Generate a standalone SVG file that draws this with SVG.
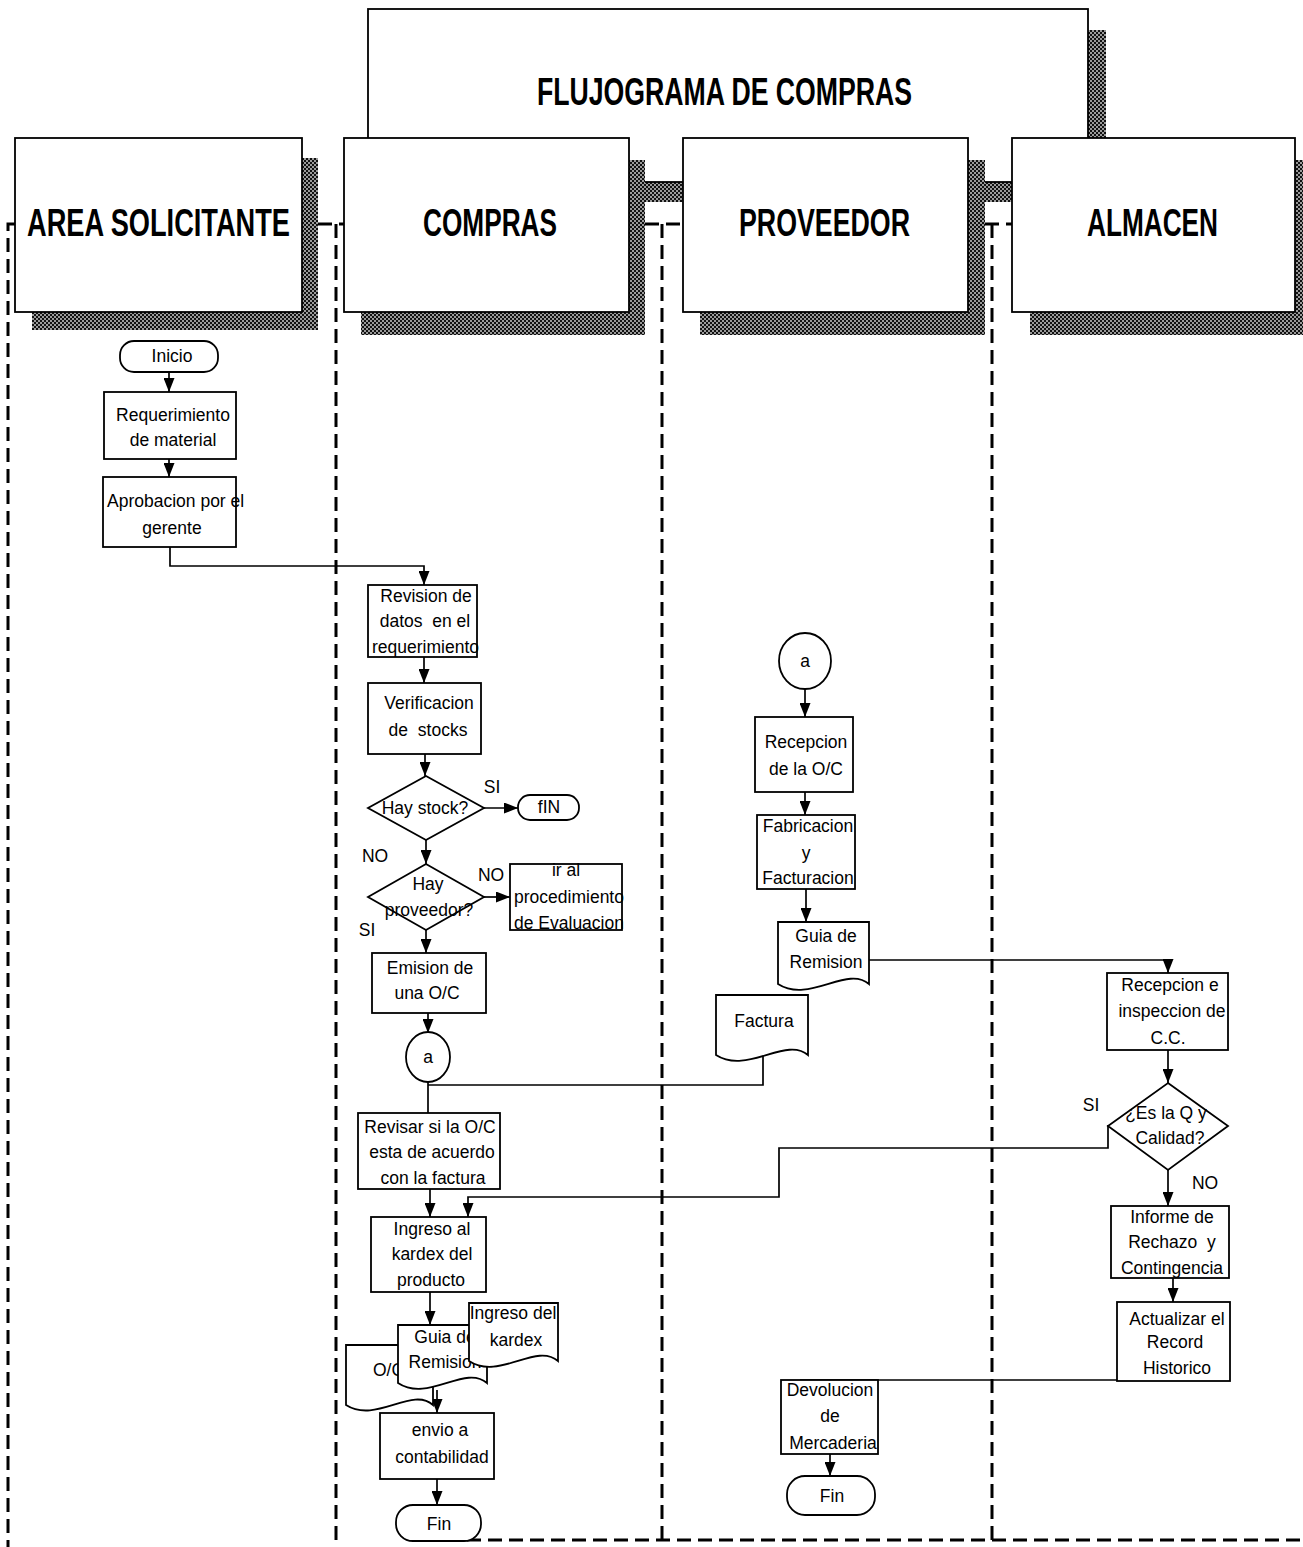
<svg xmlns="http://www.w3.org/2000/svg" width="1303" height="1547" viewBox="0 0 1303 1547">
<defs>
<pattern id="dots" width="4" height="4" patternUnits="userSpaceOnUse">
<rect width="4" height="4" fill="#9a9a9a"/>
<rect width="2" height="2" fill="#111"/>
<rect x="2" y="2" width="2" height="2" fill="#111"/>
</pattern>
<marker id="ah" markerWidth="14" markerHeight="11" refX="14" refY="5.5" orient="auto" markerUnits="userSpaceOnUse">
<path d="M0,0 L14,5.5 L0,11 z" fill="#000"/>
</marker>
</defs>
<style>
.box{fill:#fff;stroke:#000;stroke-width:1.8}
.hbox{fill:#fff;stroke:#000;stroke-width:1.8}
.sh{fill:url(#dots)}
.t{font-family:"Liberation Sans",Arial,sans-serif;font-size:17.5px;fill:#000;text-anchor:middle;white-space:pre}
.ts{font-family:"Liberation Sans",Arial,sans-serif;font-size:17.5px;fill:#000;white-space:pre}
.h{font-family:"Liberation Sans",Arial,sans-serif;font-weight:bold;font-size:39px;fill:#000}
.lane{fill:none;stroke:#000;stroke-width:3;stroke-dasharray:14 7}
.c{fill:none;stroke:#000;stroke-width:1.7}
.a{fill:none;stroke:#000;stroke-width:1.7;marker-end:url(#ah)}
</style>
<rect width="1303" height="1547" fill="#fff"/>

<!-- lanes -->
<g id="lanes">
<path class="lane" d="M15,224 H8 V1547"/>
<path class="lane" d="M318,224 H344 M336,224 V1547"/>
<path class="lane" d="M645,224 H683 M662,224 V1547"/>
<path class="lane" d="M985,224 H1012 M992,224 V1547"/>
<path class="lane" d="M425,1540 H1303"/>
</g>

<!-- title -->
<g id="title">
<rect class="sh" x="1088" y="30" width="18" height="172"/>
<rect class="sh" x="385" y="182" width="721" height="20"/>
<rect class="hbox" x="368" y="9" width="720" height="173"/>
<text class="h" x="537" y="105" textLength="375" lengthAdjust="spacingAndGlyphs">FLUJOGRAMA DE COMPRAS</text>
</g>

<g id="hdr-area">
<rect class="sh" x="302" y="158" width="16" height="172"/>
<rect class="sh" x="32" y="312" width="286" height="18"/>
<rect class="hbox" x="15" y="138" width="287" height="174"/>
<text class="h" x="27" y="236" textLength="263" lengthAdjust="spacingAndGlyphs">AREA SOLICITANTE</text>
</g>
<g id="hdr-compras">
<rect class="sh" x="629" y="160" width="16" height="175"/>
<rect class="sh" x="361" y="312" width="284" height="23"/>
<rect class="hbox" x="344" y="138" width="285" height="174"/>
<text class="h" x="423" y="236" textLength="134" lengthAdjust="spacingAndGlyphs">COMPRAS</text>
</g>
<g id="hdr-proveedor">
<rect class="sh" x="968" y="160" width="17" height="175"/>
<rect class="sh" x="700" y="312" width="285" height="23"/>
<rect class="hbox" x="683" y="138" width="285" height="174"/>
<text class="h" x="739" y="236" textLength="171" lengthAdjust="spacingAndGlyphs">PROVEEDOR</text>
</g>
<g id="hdr-almacen">
<rect class="sh" x="1295" y="160" width="10" height="175"/>
<rect class="sh" x="1030" y="312" width="275" height="23"/>
<rect class="hbox" x="1012" y="138" width="283" height="174"/>
<text class="h" x="1087" y="236" textLength="131" lengthAdjust="spacingAndGlyphs">ALMACEN</text>
</g>

<!-- connectors -->
<g id="connectors">
<path class="a" d="M169,372 V392"/>
<path class="a" d="M169,459 V477"/>
<path class="a" d="M170,547 V566 H424 V585"/>
<path class="a" d="M424,657 V683"/>
<path class="a" d="M425,754 V776"/>
<path class="a" d="M484,808 H518"/>
<path class="a" d="M426,840 V864"/>
<path class="a" d="M484,897 H510"/>
<path class="a" d="M426,930 V953"/>
<path class="a" d="M428,1013 V1033"/>
<path class="c" d="M428,1082 V1113"/>
<path class="c" d="M763,1055 V1085 H428"/>
<path class="a" d="M430,1189 V1217"/>
<path class="a" d="M1108,1125 V1148 H779 V1197 H468 V1217"/>
<path class="a" d="M430,1292 V1325"/>
<path class="a" d="M437,1390 V1413"/>
<path class="a" d="M437,1479 V1505"/>
<path class="a" d="M805,689 V717"/>
<path class="a" d="M805,792 V815"/>
<path class="a" d="M806,889 V922"/>
<path class="a" d="M869,960 H1168 V973"/>
<path class="a" d="M1168,1050 V1083"/>
<path class="a" d="M1168,1170 V1206"/>
<path class="a" d="M1173,1278 V1302"/>
<path class="c" d="M1117,1380 H800"/>
<path class="a" d="M830,1454 V1476"/>
</g>

<!-- AREA SOLICITANTE -->
<g id="inicio">
<rect class="box" x="120" y="341" width="98" height="31" rx="14"/>
<text class="t" x="172" y="362">Inicio</text>
</g>
<g id="requerimiento">
<rect class="box" x="104" y="392" width="132" height="67"/>
<text class="t" x="173" y="421">Requerimiento</text>
<text class="t" x="173" y="446">de material</text>
</g>
<g id="aprobacion">
<rect class="box" x="103" y="477" width="133" height="70"/>
<text class="ts" x="107" y="507">Aprobacion por el</text>
<text class="t" x="172" y="534">gerente</text>
</g>

<!-- COMPRAS -->
<g id="revision">
<rect class="box" x="368" y="585" width="109" height="72"/>
<text class="t" x="426" y="602">Revision de</text>
<text class="t" x="425" y="627">datos  en el</text>
<text class="ts" x="372" y="653">requerimiento</text>
</g>
<g id="verificacion">
<rect class="box" x="368" y="683" width="113" height="71"/>
<text class="t" x="429" y="709">Verificacion</text>
<text class="t" x="428" y="736">de  stocks</text>
</g>
<g id="hay-stock">
<path class="box" d="M426,776 L484,808 L426,840 L368,808 Z"/>
<text class="t" x="425" y="814">Hay stock?</text>
<text class="t" x="492" y="793">SI</text>
</g>
<g id="fin1">
<rect class="box" x="518" y="795" width="61" height="25" rx="12"/>
<text class="t" x="549" y="813">fIN</text>
</g>
<g id="hay-proveedor">
<path class="box" d="M426,864 L484,897 L426,930 L368,897 Z"/>
<text class="t" x="428" y="890">Hay</text>
<text class="t" x="429" y="916">proveedor?</text>
<text class="t" x="375" y="862">NO</text>
<text class="t" x="491" y="881">NO</text>
<text class="t" x="367" y="936">SI</text>
</g>
<g id="evaluacion">
<rect class="box" x="510" y="864" width="112" height="66"/>
<text class="t" x="566" y="876">ir al</text>
<text class="t" x="569" y="903">procedimiento</text>
<text class="t" x="569" y="929">de Evaluacion</text>
</g>
<g id="emision">
<rect class="box" x="372" y="953" width="114" height="60"/>
<text class="t" x="430" y="974">Emision de</text>
<text class="t" x="427" y="999">una O/C</text>
</g>
<g id="conector-a1">
<ellipse class="box" cx="428" cy="1057" rx="22" ry="25"/>
<text class="t" x="428" y="1063">a</text>
</g>
<g id="revisar">
<rect class="box" x="358" y="1113" width="142" height="76"/>
<text class="t" x="430" y="1133">Revisar si la O/C</text>
<text class="t" x="432" y="1158">esta de acuerdo</text>
<text class="t" x="433" y="1184">con la factura</text>
</g>
<g id="ingreso-kardex">
<rect class="box" x="371" y="1217" width="115" height="75"/>
<text class="t" x="432" y="1235">Ingreso al</text>
<text class="t" x="432" y="1260">kardex del</text>
<text class="t" x="431" y="1286">producto</text>
</g>
<g id="doc-oc">
<path class="box" d="M346,1345 H433 V1405 C412,1386 376,1424 346,1405 Z"/>
<text class="ts" x="373" y="1376">O/C</text>
</g>
<g id="doc-guia1">
<path class="box" d="M398,1325 H487 V1383 C465,1364 428,1403 398,1383 Z"/>
<text class="t" x="445" y="1343">Guia de</text>
<text class="t" x="445" y="1368">Remision</text>
</g>
<g id="doc-kardex">
<path class="box" d="M469,1303 H558 V1361 C536,1342 499,1381 469,1361 Z"/>
<text class="t" x="513" y="1319">Ingreso del</text>
<text class="t" x="516" y="1346">kardex</text>
</g>
<g id="envio">
<rect class="box" x="380" y="1413" width="114" height="66"/>
<text class="t" x="440" y="1436">envio a</text>
<text class="t" x="442" y="1463">contabilidad</text>
</g>
<g id="fin2">
<rect class="box" x="396" y="1505" width="85" height="36" rx="17"/>
<text class="t" x="439" y="1530">Fin</text>
</g>

<!-- PROVEEDOR -->
<g id="conector-a2">
<ellipse class="box" cx="805" cy="661" rx="26" ry="28"/>
<text class="t" x="805" y="667">a</text>
</g>
<g id="recepcion-oc">
<rect class="box" x="755" y="717" width="98" height="75"/>
<text class="t" x="806" y="748">Recepcion</text>
<text class="t" x="806" y="775">de la O/C</text>
</g>
<g id="fabricacion">
<rect class="box" x="757" y="815" width="98" height="74"/>
<text class="t" x="808" y="832">Fabricacion</text>
<text class="t" x="806" y="859">y</text>
<text class="t" x="808" y="884">Facturacion</text>
</g>
<g id="doc-factura">
<path class="box" d="M716,995 H808 V1055 C786,1036 747,1075 716,1055 Z"/>
<text class="t" x="764" y="1027">Factura</text>
</g>
<g id="doc-guia2">
<path class="box" d="M778,922 H869 V984 C847,965 809,1004 778,984 Z"/>
<text class="t" x="826" y="942">Guia de</text>
<text class="t" x="826" y="968">Remision</text>
</g>
<g id="devolucion">
<rect class="box" x="781" y="1380" width="97" height="74"/>
<text class="t" x="830" y="1396">Devolucion</text>
<text class="t" x="830" y="1422">de</text>
<text class="t" x="833" y="1449">Mercaderia</text>
</g>
<g id="fin3">
<rect class="box" x="787" y="1476" width="88" height="39" rx="18"/>
<text class="t" x="832" y="1502">Fin</text>
</g>

<!-- ALMACEN -->
<g id="recepcion-inspeccion">
<rect class="box" x="1107" y="973" width="121" height="77"/>
<text class="t" x="1170" y="991">Recepcion e</text>
<text class="t" x="1172" y="1017">inspeccion de</text>
<text class="t" x="1168" y="1044">C.C.</text>
</g>
<g id="calidad">
<path class="box" d="M1168,1083 L1228,1126 L1168,1170 L1108,1126 Z"/>
<text class="t" x="1166" y="1119">¿Es la Q y</text>
<text class="t" x="1170" y="1144">Calidad?</text>
<text class="t" x="1091" y="1111">SI</text>
<text class="t" x="1205" y="1189">NO</text>
</g>
<g id="informe">
<rect class="box" x="1111" y="1206" width="118" height="72"/>
<text class="t" x="1172" y="1223">Informe de</text>
<text class="t" x="1172" y="1248">Rechazo  y</text>
<text class="t" x="1172" y="1274">Contingencia</text>
</g>
<g id="actualizar">
<rect class="box" x="1117" y="1302" width="113" height="79"/>
<text class="t" x="1177" y="1325">Actualizar el</text>
<text class="t" x="1175" y="1348">Record</text>
<text class="t" x="1177" y="1374">Historico</text>
</g>
</svg>
